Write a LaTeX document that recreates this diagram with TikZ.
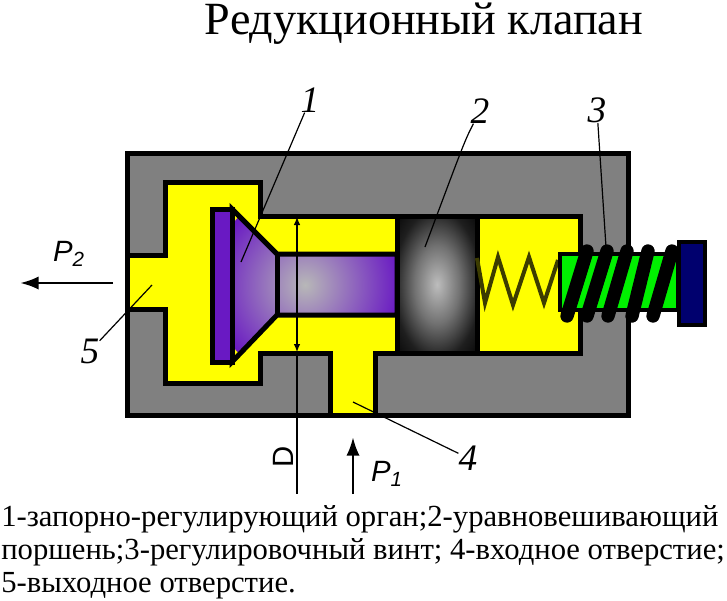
\documentclass[tikz,border=0pt]{standalone}
\usepackage{fontspec}
\setmainfont{Liberation Serif}
\newfontfamily\labelsans{Liberation Sans}
\usetikzlibrary{arrows.meta}
\definecolor{bodygray}{RGB}{128,128,128}
\definecolor{cavityyellow}{RGB}{255,255,0}
\definecolor{valvepurple}{RGB}{105,25,195}
\definecolor{screwgreen}{RGB}{0,240,0}
\definecolor{capnavy}{RGB}{0,0,110}
\definecolor{springolive}{RGB}{60,60,0}
\pgfdeclareradialshading{stemglow}{\pgfpointorigin}{color(0bp)=(black!28); color(25bp)=(valvepurple); color(100bp)=(valvepurple)}
\pgfdeclareradialshading{ballglow}{\pgfpointorigin}{color(0bp)=(black!26); color(14bp)=(black!55); color(27bp)=(black!88); color(36bp)=(black!97); color(100bp)=(black!97)}
\tikzset{
  part/.style={draw=black,line width=3.75pt,miter limit=4},
  leader/.style={draw=black,line width=.9pt},
  numlabel/.style={font=\fontsize{28}{30}\selectfont\itshape,inner sep=0pt},
  flowlabel/.style={font=\fontsize{22}{24}\selectfont\labelsans\itshape,inner sep=0pt},
  flowarrow/.style={draw=black,line width=2.2pt,-{Latex[length=14pt,width=10pt]}},
  coil/.style={draw=black,line width=10pt,line cap=round}
}
\begin{document}
\begin{tikzpicture}[x=.75pt,y=-.75pt]
  \useasboundingbox (0,0) rectangle (727,600);
  \def\cavity{(127,255) -- (165,255) -- (165,182) -- (260,182) -- (260,216) -- (580,216) -- (580,353) -- (375,353) -- (375,415) -- (330,415) -- (330,353) -- (260,353) -- (260,383) -- (165,383) -- (165,309) -- (127,309) -- cycle}
  \def\valve{(232,209) -- (277,254) -- (397,254) -- (397,315) -- (277,315) -- (232,362) -- cycle}
  % body and cavity
  \draw[part,fill=bodygray] (127,153) rectangle (628,415);
  \draw[part,fill=cavityyellow] \cavity;
  % valve
  \begin{scope}
    \clip \valve;
    \shade[shading=stemglow] (305,285) circle (95);
  \end{scope}
  \draw[part] \valve;
  \draw[part] (277,254) -- (277,315);
  \draw[part,fill=valvepurple] (212,209) rectangle (232,362);
  % piston
  \shade[shading=ballglow] (397,216) rectangle (477,353);
  \draw[part] (397,216) rectangle (477,353);
  % spring and screw
  \draw[springolive,line width=3pt] (477,258) -- (485,303) -- (498,257) -- (513,305) -- (529,257) -- (544,303) -- (558,260);
  \draw[draw=black,line width=3pt,fill=screwgreen] (560,254) rectangle (678,310);
  \foreach \xa/\xb in {567/587,587/607,608/627,632/648,653/672}
    \draw[coil] (\xa,316) -- (\xb,251);
  \draw[draw=black,line width=3pt,fill=capnavy] (679,242) rectangle (705,325);
  % D dimension
  \coordinate (dtop) at (297,217);
  \coordinate (dmid) at (297,352);
  \coordinate (dend) at (297,494);
  \draw[leader,{Latex[length=6pt,width=5pt]}-{Latex[length=6pt,width=5pt]}] (dtop) -- (dmid);
  \draw[leader] (dmid) -- (dend);
  \node[rotate=90,font=\fontsize{22}{24}\selectfont\labelsans,inner sep=0pt] (dlabel) at (283,457) {D};
  % flows
  \coordinate (p2start) at (113,283);
  \coordinate (p2end) at (20,283);
  \coordinate (p1start) at (353,494);
  \coordinate (p1end) at (353,437);
  \draw[flowarrow] (p2start) -- (p2end);
  \draw[flowarrow] (p1start) -- (p1end);
  \node[flowlabel] (ptwo) at (69,254) {P\textsubscript{2}};
  \node[flowlabel] (pone) at (387,474) {P\textsubscript{1}};
  % numbers
  \node[numlabel] (one) at (310,100) {1};
  \node[numlabel] (two) at (480,111) {2};
  \node[numlabel] (three) at (597,110) {3};
  \node[numlabel] (four) at (468,458) {4};
  \node[numlabel] (five) at (90,351) {5};
  \coordinate (onefoot) at (241,262);
  \coordinate (twofoot) at (425,247);
  \coordinate (threefoot) at (606,247);
  \coordinate (fourfoot) at (353,402);
  \coordinate (fivefoot) at (152,285);
  \draw[leader] (one) -- (onefoot);
  \draw[leader] (two) .. controls (465,140) .. (twofoot);
  \draw[leader] (three) -- (threefoot);
  \draw[leader] (four) -- (fourfoot);
  \draw[leader] (five) -- (fivefoot);
  % title and legend
  \node[font=\fontsize{34.6}{38}\selectfont,inner sep=0pt,anchor=base] (title) at (424,34) {Редукционный клапан};
  \node[font=\fontsize{23}{25}\selectfont,inner sep=0pt,anchor=north west,align=left] (legend) at (1,505) {1-запорно-регулирующий орган;2-уравновешивающий\\поршень;3-регулировочный винт; 4-входное отверстие;\\5-выходное отверстие.};
\end{tikzpicture}
\end{document}
